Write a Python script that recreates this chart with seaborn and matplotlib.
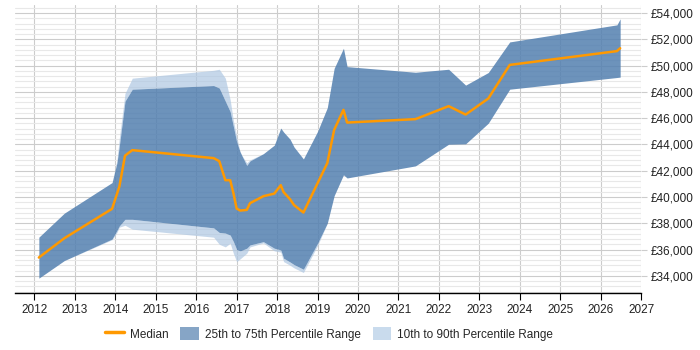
import matplotlib
matplotlib.use("Agg")
import matplotlib.pyplot as plt
import seaborn as sns
import pandas as pd
from matplotlib.lines import Line2D
from matplotlib.patches import Patch
from matplotlib.ticker import MultipleLocator, FuncFormatter

years = [2012.11, 2012.74, 2013.92, 2014.04, 2014.10, 2014.24, 2014.42, 2016.43, 2016.57,
         2016.72, 2016.84, 2016.92, 2017.00, 2017.09, 2017.25, 2017.33, 2017.66, 2017.93,
         2018.09, 2018.16, 2018.32, 2018.42, 2018.65, 2019.00, 2019.24, 2019.41, 2019.64,
         2019.73, 2021.42, 2022.24, 2022.66, 2023.22, 2023.75, 2026.40, 2026.48]

median = [35390, 36860, 39100, 40230, 40790, 43150, 43570, 42960, 42730,
          41280, 41280, 40290, 39120, 38970, 39020, 39530, 40060, 40260,
          40900, 40370, 39830, 39380, 38820, 41050, 42580, 45110, 46640,
          45670, 45930, 46920, 46280, 47500, 50060, 51110, 51330]

p75 = [36940, 38770, 41100, 42600, 43900, 47300, 48210, 48490, 48300,
       47300, 46500, 45360, 44200, 43400, 42400, 42750, 43300, 43950,
       45250, 44950, 44400, 43800, 42900, 45000, 46800, 49800, 51330,
       49930, 49500, 49730, 48520, 49480, 51810, 53110, 53570]

p25 = [33820, 35160, 36800, 37450, 37800, 38300, 38300, 37650, 37300,
       37250, 37100, 36600, 36000, 35900, 36100, 36350, 36600, 36100,
       35970, 35340, 35050, 34850, 34500, 36480, 38000, 40100, 41690,
       41450, 42370, 44020, 44050, 45620, 48210, 49100, 49130]

p90 = [36940, 38770, 41100, 42800, 44500, 47900, 49050, 49650, 49730,
       49050, 47400, 45800, 44600, 43340, 42600, 42830, 43300, 43950,
       45250, 44950, 44400, 43800, 42900, 45000, 46800, 49800, 51330,
       49930, 49500, 49730, 48520, 49480, 51810, 53110, 53570]

p10 = [33820, 35160, 36750, 37300, 37700, 37850, 37550, 36940, 36400,
       36200, 36480, 35700, 35080, 35300, 35720, 36200, 36500, 35900,
       35800, 35080, 34800, 34600, 34250, 36300, 38000, 40100, 41690,
       41450, 42370, 44020, 44050, 45620, 48210, 49100, 49130]

year_ticks = list(range(2012, 2028))

df = pd.DataFrame({"year": years, "median": median, "p25": p25, "p75": p75,
                   "p10": p10, "p90": p90})

sns.set_theme(style="white")
plt.rcParams["font.family"] = ["Liberation Sans", "DejaVu Sans"]

fig = plt.figure(figsize=(7, 3.5), dpi=100)
ax = fig.add_axes([0.0214, 0.164, 0.8946, 0.822])

dark = "#5380b0"
light = "#aec7e2"
orange = "#ff9900"

ax.fill_between(df["year"], df["p75"], df["p90"], color=light, lw=0, alpha=0.7, zorder=2)
ax.fill_between(df["year"], df["p10"], df["p25"], color=light, lw=0, alpha=0.7, zorder=2)
ax.fill_between(df["year"], df["p25"], df["p75"], color=dark, lw=0, alpha=0.85, zorder=3)
sns.lineplot(data=df, x="year", y="median", color=orange, lw=1.8, ax=ax, zorder=4,
             estimator=None, sort=False)

ax.set_xlim(2011.52, 2027.0)
ax.set_ylim(32720, 54630)

ax.set_xticks(year_ticks)
ax.set_xticklabels([str(y) for y in year_ticks])
ax.yaxis.set_major_locator(MultipleLocator(2000))
ax.yaxis.set_minor_locator(MultipleLocator(400))
ax.yaxis.set_major_formatter(FuncFormatter(lambda v, p: f"£{int(v):,}"))
ax.yaxis.tick_right()

ax.grid(True, which="major", axis="both", color="#cccccc", lw=0.8, zorder=0)
ax.grid(True, which="minor", axis="y", color="#e8e8e8", lw=0.8, zorder=0)
ax.set_axisbelow(True)

for s in ["top", "left", "right"]:
    ax.spines[s].set_visible(False)
ax.spines["bottom"].set_color("#000000")
ax.spines["bottom"].set_linewidth(1.0)

ax.tick_params(axis="x", which="major", length=5, width=0.8, color="#000000",
               labelsize=8.5, pad=3, labelcolor="#222222", bottom=True)
ax.tick_params(axis="y", which="major", length=4, width=0.8, color="#cccccc",
               labelsize=8.5, pad=3, labelcolor="#222222", right=True)
ax.tick_params(axis="y", which="minor", length=0)
ax.set_xlabel("")
ax.set_ylabel("")

handles = [Line2D([0], [0], color=orange, lw=2.5),
           Patch(facecolor="#86a5c6", edgecolor="none"),
           Patch(facecolor="#c9dbed", edgecolor="none")]
labels = ["Median", "25th to 75th Percentile Range", "10th to 90th Percentile Range"]
fig.legend(handles, labels, loc="center", bbox_to_anchor=(0.47, 0.046), ncol=3,
           frameon=False, fontsize=8.5, handlelength=1.6, handleheight=1.3,
           columnspacing=1.0, handletextpad=0.5)

fig.savefig("out.png", dpi=100)
